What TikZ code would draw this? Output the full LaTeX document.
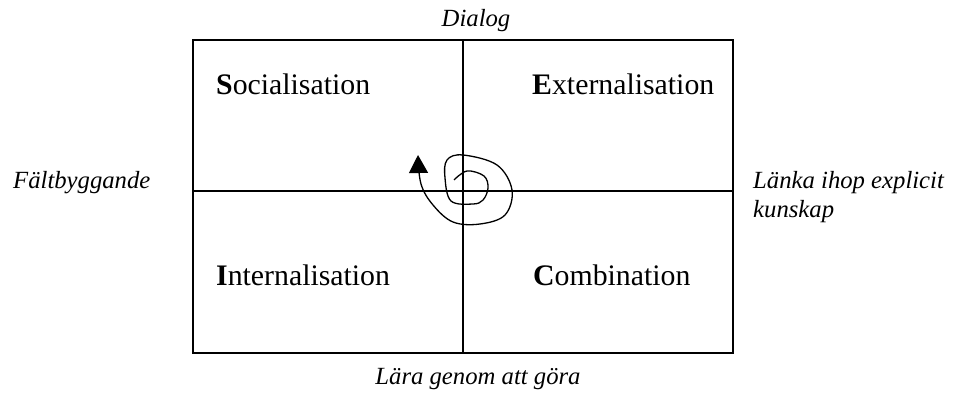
\documentclass[tikz,border=0pt]{standalone}
\usepackage{fontspec}
\setmainfont{Liberation Serif}
\usetikzlibrary{arrows.meta}

\begin{document}
\begin{tikzpicture}[
  x=1pt, y=-1pt,
  >=Triangle,
  quad/.style={font=\fontsize{29.8}{34}\selectfont, anchor=base west, inner sep=0pt},
  axis/.style={font=\fontsize{24.7}{29}\selectfont\itshape, inner sep=0pt},
  grid/.style={line width=1.6pt},
]
\useasboundingbox (0,0) rectangle (955,393);

% quadrant frame
\draw[grid] (193,40) rectangle (733,353);
\draw[grid] (463,40) -- (463,353);
\draw[grid] (193,191) -- (733,191);

% quadrant labels
\node[quad] (socialisation) at (216,95) {\textbf{S}ocialisation};
\node[quad] (externalisation) at (532,95) {\textbf{E}xternalisation};
\node[quad] (internalisation) at (216,285) {\textbf{I}nternalisation};
\node[quad] (combination) at (533,285) {\textbf{C}ombination};

% axis labels
\node[axis, anchor=base] (dialog) at (476,27) {Dialog};
\node[axis, anchor=base] (lara) at (478,384) {Lära genom att göra};
\node[axis, anchor=base west] (falt) at (13,188) {Fältbyggande};
\node[axis, anchor=base west, align=left] (lanka) at (753,217)
  {Länka ihop explicit\\kunskap};

% spiral
\draw[line width=1.3pt, -{Triangle[length=18pt,width=19pt]}]
  plot[smooth, tension=0.6] coordinates {
    (454,180) (467,171) (484,176) (488,188) (483,200) (473,204)
    (451,201) (445,178) (447,160) (463,155) (497,165) (512,190)
    (505,215) (480,224) (453,222) (433,205) (421,184) (418,155)};

\end{tikzpicture}
\end{document}
